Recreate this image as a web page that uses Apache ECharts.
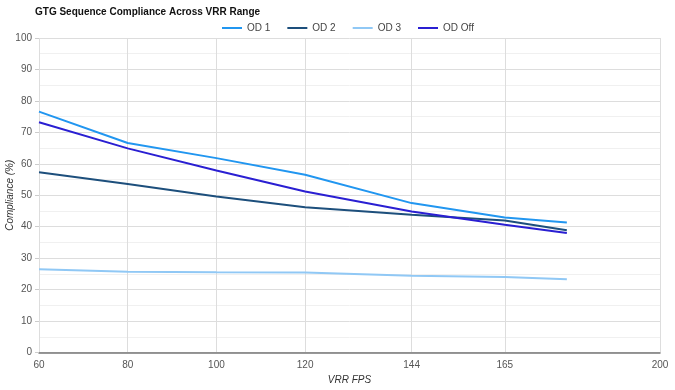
<!DOCTYPE html>
<html>
<head>
<meta charset="utf-8">
<script src="https://cdn.jsdelivr.net/npm/echarts@6/dist/echarts.min.js"></script>
<style>html,body{margin:0;padding:0;background:#fff}#c{width:675px;height:390px}</style>
</head>
<body>
<div id="c"></div>
<script>
const fps = [60, 80, 100, 120, 144, 165, 179];
const xTicks = [60, 80, 100, 120, 144, 165, 200];
const od1 = [76.6, 66.6, 61.8, 56.5, 47.5, 42.9, 41.3];
const od2 = [57.3, 53.6, 49.6, 46.2, 43.8, 42.0, 38.9];
const od3 = [26.5, 25.7, 25.5, 25.4, 24.4, 24.0, 23.3];
const odOff = [73.2, 64.9, 57.9, 51.2, 44.8, 40.6, 38.0];
const seriesNames = ['OD 1', 'OD 2', 'OD 3', 'OD Off'];
const colors = ['#2196f0', '#1d4f7c', '#90c8f5', '#2a1fd2'];
const values = [od1, od2, od3, odOff];

const font = 'Liberation Sans, Arial, sans-serif';
const chart = echarts.init(document.getElementById('c'));
chart.setOption({
  animation: false,
  backgroundColor: '#fff',
  textStyle: { fontFamily: font },
  title: {
    text: 'GTG Sequence Compliance Across VRR Range',
    left: 30, top: 2,
    textStyle: { fontSize: 10, fontWeight: 'bold', color: '#111', fontFamily: font }
  },
  legend: {
    left: 217, top: 18,
    icon: 'rect', itemWidth: 20, itemHeight: 2, itemGap: 17,
    textStyle: { fontSize: 10, color: '#444', fontFamily: font },
    data: seriesNames
  },
  grid: { left: 39, right: 15, top: 38, bottom: 37.5, containLabel: false, outerBoundsMode: 'none' },
  xAxis: {
    type: 'value', min: 60, max: 200,
    name: 'VRR FPS', nameLocation: 'middle', nameGap: 23, nameMoveOverlap: false,
    nameTextStyle: { fontStyle: 'italic', fontSize: 10, color: '#333', fontFamily: font },
    axisLine: { show: true, onZero: false, lineStyle: { color: '#777', width: 1.5 } },
    axisTick: { show: false, customValues: xTicks },
    axisLabel: { customValues: xTicks, color: '#555', fontSize: 10, margin: 8, fontFamily: font },
    splitLine: { show: true, lineStyle: { color: '#ddd', width: 1 } }
  },
  yAxis: {
    type: 'value', min: 0, max: 100, interval: 10,
    name: 'Compliance (%)', nameLocation: 'middle', nameGap: 24, nameMoveOverlap: false,
    nameTextStyle: { fontStyle: 'italic', fontSize: 10, color: '#333', fontFamily: font },
    axisLine: { show: false },
    axisTick: { show: true, length: 4, lineStyle: { color: '#ccc' } },
    axisLabel: { color: '#555', fontSize: 10, margin: 7, fontFamily: font },
    splitLine: { show: true, lineStyle: { color: '#ddd', width: 1 } },
    minorTick: { show: false, splitNumber: 2 },
    minorSplitLine: { show: true, lineStyle: { color: '#f0f0f0', width: 1 } }
  },
  series: seriesNames.map((n, i) => ({
    name: n, type: 'line', showSymbol: false, symbol: 'none',
    color: colors[i],
    lineStyle: { width: 2, color: colors[i] },
    data: fps.map((x, j) => [x, values[i][j]])
  }))
});
</script>
</body>
</html>
